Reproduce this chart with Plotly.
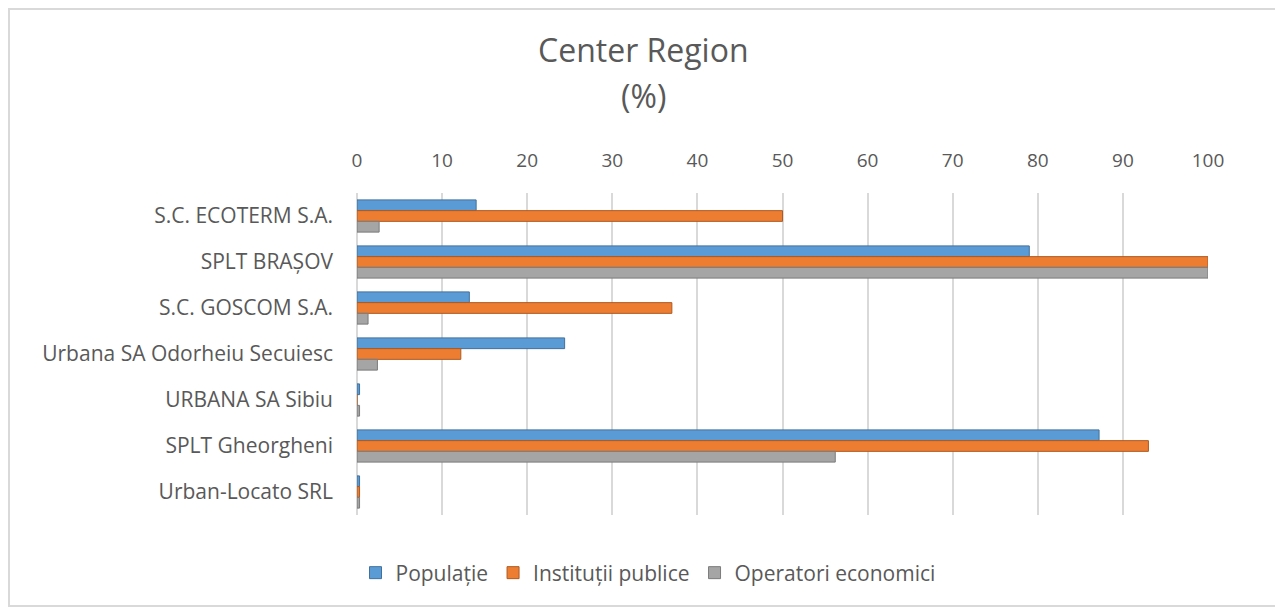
import plotly.graph_objects as go

categories = ["S.C. ECOTERM S.A.", "SPLT BRAȘOV", "S.C. GOSCOM S.A.",
              "Urbana SA Odorheiu Secuiesc", "URBANA SA Sibiu",
              "SPLT Gheorgheni", "Urban-Locato SRL"]
populatie = [14, 79, 13.2, 24.4, 0.3, 87.2, 0.3]
institutii = [50, 100, 37, 12.2, 0, 93, 0.3]
operatori = [2.6, 100, 1.3, 2.4, 0.3, 56.2, 0.3]
tick_vals = list(range(0, 101, 10))

series = [
    ("Populație", populatie, "#5B9BD5", "#41719C"),
    ("Instituții publice", institutii, "#ED7D31", "#AE5A21"),
    ("Operatori economici", operatori, "#A5A5A5", "#7B7B7B"),
]

OFF = 8  # page body margin
W, H = 1283 - OFF, 608 - OFF
L, R, T, B = 357 - OFF, 1208 - OFF, 193 - OFF, 515 - OFF
pw, ph = R - L, B - T

def px(x):
    return (x - OFF - L) / pw

def py(y):
    return (B - (y - OFF)) / ph

fig = go.Figure()
for name, vals, col, edge in series:
    fig.add_trace(go.Bar(
        y=categories, x=vals, name=name, orientation="h",
        marker=dict(color=col, line=dict(color=edge, width=1)),
    ))

font_fam = "Open Sans, Liberation Sans, sans-serif"
txt = "#595959"

fig.update_layout(
    width=W, height=H,
    margin=dict(l=L, r=W - R, t=T, b=H - B, pad=0),
    paper_bgcolor="white", plot_bgcolor="white",
    barmode="group", bargap=0.3, bargroupgap=0,
    font=dict(family=font_fam, color=txt),
    xaxis=dict(side="top", range=[0, 100], tickvals=tick_vals,
               showgrid=True, gridcolor="#D9D9D9", gridwidth=2,
               zeroline=True, zerolinecolor="#D9D9D9", zerolinewidth=2,
               showline=False, ticks="", tickfont=dict(size=19, color=txt),
               ticklabelstandoff=21),
    yaxis=dict(categoryorder="array", categoryarray=categories,
               autorange="reversed", showgrid=False, zeroline=False,
               showline=False, ticks="", tickfont=dict(size=21, color=txt),
               ticklabelstandoff=23),
    showlegend=True,
    legend=dict(orientation="h", x=px(648), y=py(573), xanchor="center",
                yanchor="middle", font=dict(size=21, color=txt),
                traceorder="normal", itemwidth=30),
    shapes=[dict(type="rect", xref="paper", yref="paper",
                 x0=px(OFF + 1), x1=px(1279), y0=py(606), y1=py(OFF + 1),
                 line=dict(color="#D9D9D9", width=2), layer="below")],
    annotations=[
        dict(text="Center Region", xref="paper", yref="paper", x=px(643), y=py(49),
             xanchor="center", yanchor="middle", showarrow=False,
             font=dict(size=32, color=txt, family=font_fam)),
        dict(text="(%)", xref="paper", yref="paper", x=px(643), y=py(96),
             xanchor="center", yanchor="middle", showarrow=False,
             font=dict(size=32, color=txt, family=font_fam)),
    ],
)

fig.write_html("out.html")
